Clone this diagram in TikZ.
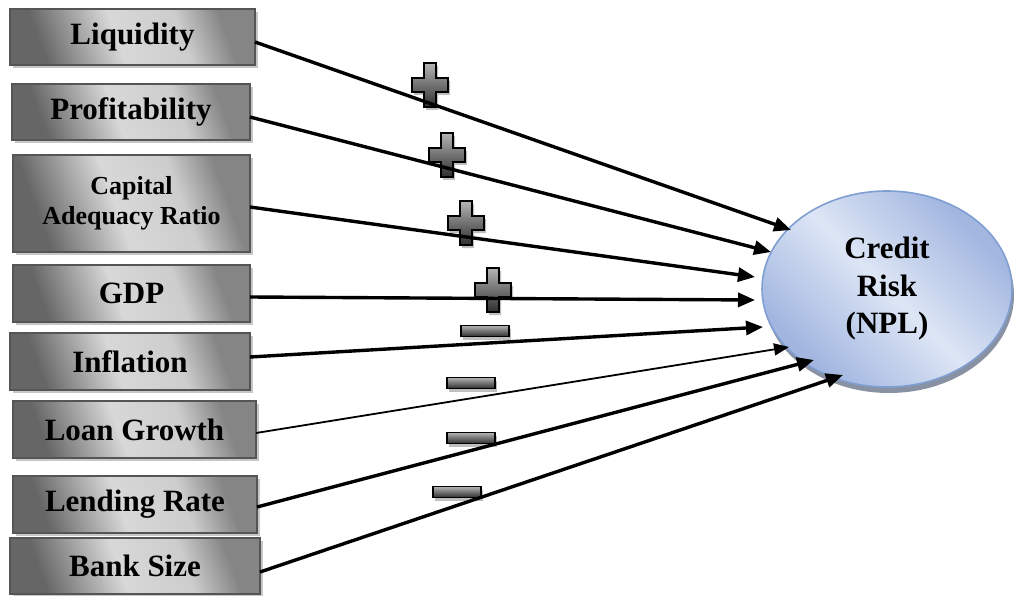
\documentclass[tikz,border=0pt]{standalone}
\usepackage{fontspec}
\setmainfont{Liberation Serif}
\usetikzlibrary{shapes.geometric,shadows,arrows.meta}
\definecolor{bxA}{HTML}{666666}
\definecolor{bxB}{HTML}{D8D8D8}
\definecolor{bxC}{HTML}{CDCDCD}
\definecolor{bxD}{HTML}{858585}
\definecolor{bxborder}{HTML}{555555}
\definecolor{elA}{HTML}{A2B6E0}
\definecolor{elB}{HTML}{DDE6F5}
\definecolor{elborder}{HTML}{7F9FD3}
\definecolor{elshadow}{HTML}{7C8698}
\definecolor{signtop}{HTML}{B4B4B4}
\definecolor{signbot}{HTML}{2E2E2E}
\pgfdeclarehorizontalshading{boxshade}{100bp}{color(0bp)=(bxA); color(27bp)=(bxA); color(46bp)=(bxB); color(62bp)=(bxC); color(73bp)=(bxD); color(100bp)=(bxD)}
\pgfdeclarehorizontalshading{ellshade}{100bp}{color(0bp)=(elA); color(27bp)=(elA); color(50bp)=(elB); color(73bp)=(elA); color(100bp)=(elA)}
\begin{document}
\begin{tikzpicture}[x=1pt,y=-1pt,
  factor/.style={draw=bxborder, line width=1.6pt, shading=boxshade, shading angle=20,
    inner sep=0pt, outer sep=0pt, align=center,
    drop shadow={shadow xshift=3pt, shadow yshift=-3pt, fill=black!22, opacity=1},
    font=\fontsize{31}{36}\selectfont\bfseries},
  target/.style={ellipse, draw=elborder, line width=1.6pt, shading=ellshade, shading angle=45,
    minimum width=250pt, minimum height=196pt, inner sep=0pt, outer sep=0pt, align=center,
    drop shadow={shadow xshift=2pt, shadow yshift=-6pt, fill=elshadow, opacity=0.9},
    font=\fontsize{31}{37.5}\selectfont\bfseries},
  link/.style={line width=3.4pt, -{Triangle[length=17pt,width=14pt]}},
  thinlink/.style={line width=1.8pt, -{Triangle[length=15pt,width=12pt]}},
  plussign/.pic={
    \fill[black,opacity=0.25] (-4,-19) -- (8,-19) -- (8,-4) -- (20,-4) -- (20,10) -- (8,10) -- (8,25) -- (-4,25) -- (-4,10) -- (-16,10) -- (-16,-4) -- (-4,-4) -- cycle;
    \draw[line width=1.4pt, top color=signtop, bottom color=signbot] (-6,-22) -- (6,-22) -- (6,-7) -- (18,-7) -- (18,7) -- (6,7) -- (6,22) -- (-6,22) -- (-6,7) -- (-18,7) -- (-18,-7) -- (-6,-7) -- cycle;
  },
  minussign/.pic={
    \fill[black,opacity=0.25] (-22,-2.5) rectangle (26,8.5);
    \draw[line width=1.4pt, top color=signtop, bottom color=signbot] (-24,-5.5) rectangle (24,5.5);
  }]
\useasboundingbox (0,0) rectangle (1014,596);

\node[factor, minimum width=245pt, minimum height=56pt] (b1) at (132.5,37) {Liquidity};
\node[factor, minimum width=238pt, minimum height=56pt] (b2) at (131,112) {Profitability};
\node[factor, minimum width=237pt, minimum height=97pt, font=\fontsize{26}{30}\selectfont\bfseries] (b3) at (131.5,203.5) {Capital\\Adequacy Ratio};
\node[factor, minimum width=237pt, minimum height=57pt] (b4) at (131.5,293.5) {GDP};
\node[factor, minimum width=240pt, minimum height=57pt] (b5) at (130,361.5) {Inflation};
\node[factor, minimum width=243pt, minimum height=57pt] (b6) at (134.5,429.5) {Loan Growth};
\node[factor, minimum width=244pt, minimum height=57pt] (b7) at (135,504.5) {Lending Rate};
\node[factor, minimum width=250pt, minimum height=56pt] (b8) at (135,566) {Bank Size};

\node[target] (npl) at (887,289) {Credit\\Risk\\(NPL)};

\pic (p1) at (430,85) {plussign};
\pic (p2) at (447,155) {plussign};
\pic (p3) at (466,223) {plussign};
\pic (p4) at (493,290) {plussign};
\pic (m1) at (485,331) {minussign};
\pic (m2) at (471,383) {minussign};
\pic (m3) at (471,438) {minussign};
\pic (m4) at (457,492) {minussign};

\coordinate (t1) at (791,230);
\coordinate (t2) at (771,252);
\coordinate (t3) at (755,277);
\coordinate (t4) at (755,300);
\coordinate (t5) at (763,327);
\coordinate (t6) at (789,347);
\coordinate (t7) at (814,360);
\coordinate (t8) at (843,375);

\draw[link] ([yshift=-5pt]b1.east) -- (t1);
\draw[link] ([yshift=-5pt]b2.east) -- (t2);
\draw[link] ([yshift=-3.5pt]b3.east) -- (t3);
\draw[link] ([yshift=-3.5pt]b4.east) -- (t4);
\draw[link] ([yshift=4.5pt]b5.east) -- (t5);
\draw[thinlink] ([yshift=-3.5pt]b6.east) -- (t6);
\draw[link] ([yshift=-2.5pt]b7.east) -- (t7);
\draw[link] ([yshift=-6pt]b8.east) -- (t8);
\end{tikzpicture}
\end{document}
